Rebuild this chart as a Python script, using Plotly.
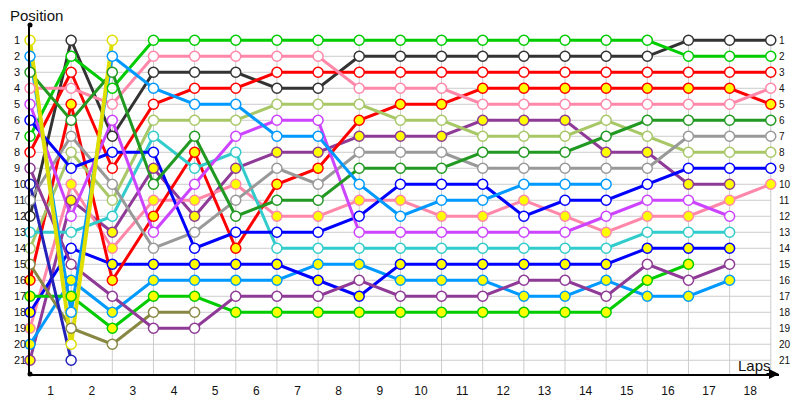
import plotly.graph_objects as go

# ---------------- data ----------------
lap_points = list(range(19))                       # lap boundaries 0..18
lap_labels = [str(i) for i in range(1, 19)]        # "1".."18"
lap_label_x = [i + 0.5 for i in range(18)]
position_ticks = list(range(1, 22))

# positions per lap boundary (x = 0, 1, 2, ...)
p_yellow   = [1, 20, 1]
p_lblue_a  = [2, 18, 2, 4, 5, 5, 7, 7, 10, 12, 11, 11, 10, 10, 10]
p_dgreen   = [3, 6, 3, 10, 7, 12, 11, 11, 9, 9, 9, 8, 8, 8, 7, 6, 6, 6, 6]
p_pink_a   = [4, 4, 5, 2, 2, 2, 2, 2, 4, 4, 4, 5, 5, 5, 5, 5, 5, 5, 4]
p_violet   = [5, 12, 6, 13, 10, 7, 6, 6, 13, 13, 13, 13, 13, 13, 12, 11, 11, 12]
p_blue_a   = [6, 9, 8, 8, 14, 13, 13, 13, 12, 10, 10, 10, 12, 11, 11, 10, 9, 9, 9]
p_green_a  = [7, 2, 4, 1, 1, 1, 1, 1, 1, 1, 1, 1, 1, 1, 1, 1, 2, 2, 2]
p_red_a    = [8, 3, 9, 5, 4, 4, 3, 3, 3, 3, 3, 3, 3, 3, 3, 3, 3, 3, 3]
p_purple_a = [9, 15, 17, 19, 19, 17, 17, 17, 16, 17, 17, 17, 16, 16, 17, 15, 16, 15]
p_navy     = [10, 21]
p_gray     = [11, 7, 10, 14, 13, 11, 9, 10, 8, 8, 8, 9, 9, 9, 9, 9, 7, 7, 7]
p_dark     = [12, 1, 7, 3, 3, 3, 4, 4, 2, 2, 2, 2, 2, 2, 2, 2, 1, 1, 1]
p_cyan     = [13, 13, 12, 7, 9, 8, 14, 14, 14, 14, 14, 14, 14, 14, 14, 13, 13, 13]
p_lolive   = [14, 8, 11, 6, 6, 6, 5, 5, 5, 6, 6, 7, 7, 7, 6, 7, 8, 8, 8]
p_olive    = [15, 19, 20, 18, 18]
p_red_b    = [16, 5, 16, 12, 8, 14, 10, 9, 6, 5, 5, 4, 4, 4, 4, 4, 4, 4, 5]
p_green_b  = [17, 17, 19, 17, 17, 18, 18, 18, 18, 18, 18, 18, 18, 18, 18, 16, 15]
p_blue_b   = [18, 14, 15, 15, 15, 15, 15, 16, 17, 15, 15, 15, 15, 15, 15, 14, 14, 14]
p_pink_b   = [19, 10, 14, 11, 11, 10, 12, 12, 11, 11, 12, 12, 11, 12, 13, 12, 12, 11, 10]
p_lblue_b  = [20, 16, 18, 16, 16, 16, 16, 15, 15, 16, 16, 16, 17, 17, 16, 17, 17, 16]
p_purple_b = [21, 11, 13, 9, 12, 9, 8, 8, 7, 7, 7, 6, 6, 6, 8, 8, 10, 10]

# highlighted (yellow-filled) markers, 1 = yellow
y_red_b    = [1] * 19
y_green_b  = [1] * 17
y_blue_b   = [1, 0, 1, 1, 1, 1, 1, 1, 1, 1, 1, 1, 1, 1, 1, 1, 1, 1]
y_pink_b   = [1] * 19
y_lblue_b  = [1] * 18
y_purple_b = [1] * 18

# (positions, colour, line width, yellow flags) drawn from last starter to first
series = [
    (p_purple_b, "#8e3a96", 3, y_purple_b),
    (p_lblue_b, "#0099ff", 3, y_lblue_b),
    (p_pink_b, "#ff88aa", 3, y_pink_b),
    (p_blue_b, "#0000ff", 3, y_blue_b),
    (p_green_b, "#00cc00", 3, y_green_b),
    (p_red_b, "#ff0000", 3, y_red_b),
    (p_olive, "#888844", 3, None),
    (p_lolive, "#a8c868", 3, None),
    (p_cyan, "#33cccc", 3, None),
    (p_dark, "#333333", 3, None),
    (p_gray, "#999999", 3, None),
    (p_navy, "#2222bb", 3, None),
    (p_purple_a, "#8e3a96", 3, None),
    (p_red_a, "#ff0000", 3, None),
    (p_green_a, "#00cc00", 3, None),
    (p_blue_a, "#0000ff", 3, None),
    (p_violet, "#cc44ff", 3, None),
    (p_pink_a, "#ff88aa", 3, None),
    (p_dgreen, "#229922", 3, None),
    (p_lblue_a, "#0099ff", 3, None),
    (p_yellow, "#dede00", 4, None),
]

Y_TOP = 0.045
Y_BOTTOM = 21.86
X_MAX = 18.2
GRID = "#cccccc"
FONT = "Liberation Sans, Arial, sans-serif"
TXT = "#111111"

# the page body has an 8px margin, so the figure is 8px smaller than the window
W, H = 792, 392
ML, MT = 22, 17
MR, MB = 21.4, 25.5
PLOT_W = W - ML - MR

fig = go.Figure()

# lines first
for pos, col, lw, flags in series:
    fig.add_trace(go.Scatter(
        x=lap_points[:len(pos)], y=pos, mode="lines",
        line=dict(color=col, width=lw), hoverinfo="skip", showlegend=False))

# markers on top
for pos, col, lw, flags in series:
    fills = ["#ffff00" if (flags and f) else "#ffffff" for f in (flags or [0] * len(pos))]
    fig.add_trace(go.Scatter(
        x=lap_points[:len(pos)], y=pos, mode="markers",
        marker=dict(size=10, color=fills, line=dict(color=col, width=1.5)),
        cliponaxis=False, hoverinfo="skip", showlegend=False))

# axis end dots
fig.add_trace(go.Scatter(x=[0, 0], y=[Y_TOP, Y_BOTTOM], mode="markers",
                         marker=dict(size=5, color="black"), cliponaxis=False,
                         hoverinfo="skip", showlegend=False))

# grid
shapes = []
for p in position_ticks:
    shapes.append(dict(type="line", xref="x", yref="y", x0=0, x1=18, y0=p, y1=p,
                       line=dict(color=GRID, width=1), layer="below"))
for i in lap_points[1:]:
    shapes.append(dict(type="line", xref="x", yref="y", x0=i, x1=i, y0=1, y1=Y_BOTTOM,
                       line=dict(color=GRID, width=1), layer="below"))

annotations = [
    dict(text="Position", xref="paper", yref="paper", x=-ML / PLOT_W, y=1.0286,
         xanchor="left", yanchor="middle", showarrow=False,
         font=dict(family=FONT, size=15, color=TXT)),
    dict(text="Laps", xref="x", yref="y", x=17.6, y=21.3,
         xanchor="center", yanchor="middle", showarrow=False,
         font=dict(family=FONT, size=15, color=TXT)),
    dict(text="", xref="x", yref="y", x=X_MAX, y=Y_BOTTOM, ax=-14, ay=0,
         showarrow=True, arrowhead=2, arrowsize=1, arrowwidth=2, arrowcolor="black"),
]
# left position labels (left aligned) and right position labels
for p in position_ticks:
    annotations.append(dict(text=str(p), xref="paper", yref="y", x=-18 / PLOT_W, y=p,
                            xanchor="left", yanchor="middle", showarrow=False,
                            font=dict(family=FONT, size=11, color=TXT)))
    annotations.append(dict(text=str(p), xref="x", yref="y", x=18, y=p,
                            xanchor="left", yanchor="middle", xshift=6, showarrow=False,
                            font=dict(family=FONT, size=10, color=TXT)))

fig.update_layout(
    width=W, height=H,
    margin=dict(l=ML, r=MR, t=MT, b=MB, autoexpand=False),
    paper_bgcolor="white", plot_bgcolor="white",
    shapes=shapes, annotations=annotations,
    xaxis=dict(range=[0, X_MAX], tickmode="array", tickvals=lap_label_x, ticktext=lap_labels,
               showgrid=False, zeroline=False, showline=True, linecolor="black", linewidth=2,
               ticks="", ticklabelstandoff=5, automargin=False,
               tickfont=dict(family=FONT, size=12, color=TXT)),
    yaxis=dict(range=[Y_BOTTOM, Y_TOP], tickmode="array", tickvals=position_ticks,
               showticklabels=False,
               showgrid=False, zeroline=False, showline=True, linecolor="black", linewidth=1.5,
               ticks="", automargin=False),
)

fig.write_html("out.html")
